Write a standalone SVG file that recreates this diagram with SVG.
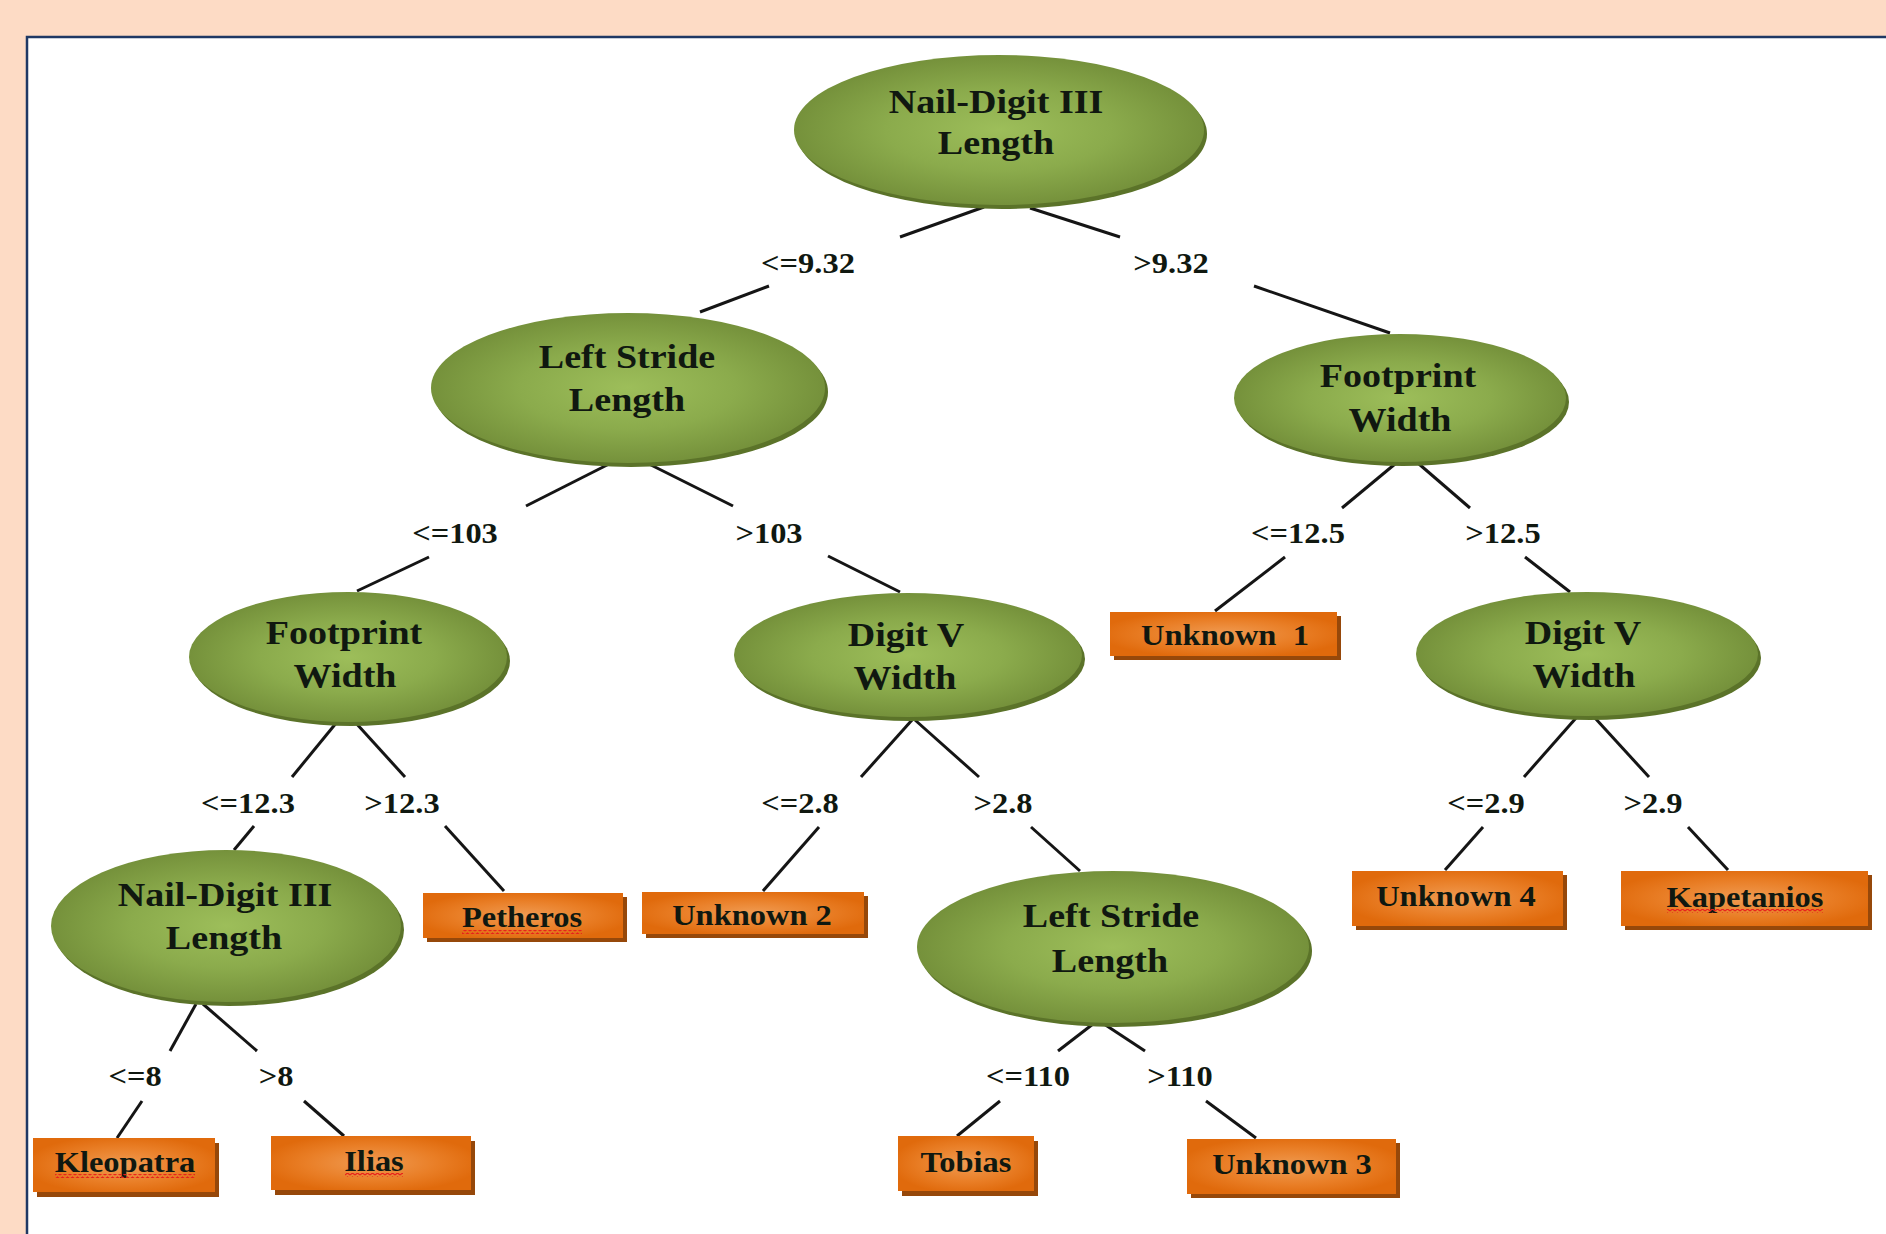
<svg xmlns="http://www.w3.org/2000/svg" width="1886" height="1234" viewBox="0 0 1886 1234">
<style>
.c{stroke:#151515;stroke-width:3;stroke-linecap:butt;fill:none}
.t{font-family:"Liberation Serif","Times New Roman",serif;font-weight:bold;fill:#101810;text-anchor:middle}
.n{font-size:34px}
.b{font-size:29px}
.l{font-size:29px}
.el{fill:url(#gEl)}
.es{fill:#5b7329}
.bx{fill:url(#gBx)}
.bs{fill:#96480a}
.wv{fill:url(#wave)}
</style>
<defs>
<radialGradient id="gEl" cx="50%" cy="50%" r="50%">
<stop offset="0" stop-color="#9dbe5a"/>
<stop offset="0.55" stop-color="#8bab4c"/>
<stop offset="1" stop-color="#75913b"/>
</radialGradient>
<radialGradient id="gBx" cx="50%" cy="50%" r="55%">
<stop offset="0" stop-color="#f09b52"/>
<stop offset="0.6" stop-color="#e97e26"/>
<stop offset="1" stop-color="#e06a0c"/>
</radialGradient>
<pattern id="wave" width="5" height="4" patternUnits="userSpaceOnUse">
<path d="M0,3 L2.5,1 L5,3" stroke="#e8201c" stroke-width="1.1" fill="none"/>
</pattern>
</defs>
<rect x="0" y="0" width="1886" height="1234" fill="#fddbc5"/>
<rect x="27" y="37" width="1900" height="1260" fill="#ffffff" stroke="#1f3864" stroke-width="2.5"/>

<g id="connectors">
<line class="c" x1="984" y1="207" x2="900" y2="237"/>
<line class="c" x1="769" y1="286" x2="700" y2="312"/>
<line class="c" x1="1030" y1="208" x2="1120" y2="237"/>
<line class="c" x1="1254" y1="286" x2="1390" y2="333"/>
<line class="c" x1="611" y1="463" x2="526" y2="506"/>
<line class="c" x1="429" y1="557" x2="357" y2="591"/>
<line class="c" x1="647" y1="463" x2="733" y2="506"/>
<line class="c" x1="828" y1="556" x2="900" y2="592"/>
<line class="c" x1="1395" y1="464" x2="1342" y2="508"/>
<line class="c" x1="1285" y1="557" x2="1215" y2="611"/>
<line class="c" x1="1419" y1="464" x2="1470" y2="508"/>
<line class="c" x1="1525" y1="557" x2="1570" y2="592"/>
<line class="c" x1="337" y1="722" x2="292" y2="777"/>
<line class="c" x1="254" y1="826" x2="234" y2="850"/>
<line class="c" x1="355" y1="722" x2="405" y2="777"/>
<line class="c" x1="445" y1="826" x2="504" y2="891"/>
<line class="c" x1="912" y1="720" x2="861" y2="777"/>
<line class="c" x1="819" y1="827" x2="763" y2="891"/>
<line class="c" x1="915" y1="720" x2="979" y2="777"/>
<line class="c" x1="1031" y1="827" x2="1080" y2="871"/>
<line class="c" x1="1576" y1="718" x2="1524" y2="777"/>
<line class="c" x1="1483" y1="827" x2="1445" y2="870"/>
<line class="c" x1="1595" y1="718" x2="1649" y2="777"/>
<line class="c" x1="1688" y1="827" x2="1728" y2="870"/>
<line class="c" x1="196" y1="1004" x2="170" y2="1051"/>
<line class="c" x1="142" y1="1101" x2="117" y2="1138"/>
<line class="c" x1="203" y1="1004" x2="257" y2="1051"/>
<line class="c" x1="304" y1="1101" x2="344" y2="1136"/>
<line class="c" x1="1093" y1="1024" x2="1058" y2="1051"/>
<line class="c" x1="1000" y1="1101" x2="957" y2="1136"/>
<line class="c" x1="1104" y1="1024" x2="1145" y2="1051"/>
<line class="c" x1="1206" y1="1101" x2="1256" y2="1138"/>
<text class="t l" transform="matrix(1.12 0 0 1 808 0)" y="273">&lt;=9.32</text>
<text class="t l" transform="matrix(1.12 0 0 1 1171 0)" y="273">&gt;9.32</text>
<text class="t l" transform="matrix(1.12 0 0 1 455 0)" y="543">&lt;=103</text>
<text class="t l" transform="matrix(1.12 0 0 1 769 0)" y="543">&gt;103</text>
<text class="t l" transform="matrix(1.12 0 0 1 1298 0)" y="543">&lt;=12.5</text>
<text class="t l" transform="matrix(1.12 0 0 1 1503 0)" y="543">&gt;12.5</text>
<text class="t l" transform="matrix(1.12 0 0 1 248 0)" y="813">&lt;=12.3</text>
<text class="t l" transform="matrix(1.12 0 0 1 402 0)" y="813">&gt;12.3</text>
<text class="t l" transform="matrix(1.12 0 0 1 800 0)" y="813">&lt;=2.8</text>
<text class="t l" transform="matrix(1.12 0 0 1 1003 0)" y="813">&gt;2.8</text>
<text class="t l" transform="matrix(1.12 0 0 1 1486 0)" y="813">&lt;=2.9</text>
<text class="t l" transform="matrix(1.12 0 0 1 1653 0)" y="813">&gt;2.9</text>
<text class="t l" transform="matrix(1.12 0 0 1 135 0)" y="1086">&lt;=8</text>
<text class="t l" transform="matrix(1.12 0 0 1 276 0)" y="1086">&gt;8</text>
<text class="t l" transform="matrix(1.12 0 0 1 1028 0)" y="1086">&lt;=110</text>
<text class="t l" transform="matrix(1.12 0 0 1 1180 0)" y="1086">&gt;110</text>
</g>

<g id="node-root">
<ellipse class="es" cx="1002" cy="134" rx="205" ry="75"/>
<ellipse class="el" cx="999" cy="130" rx="205" ry="75"/>
<text class="t n" transform="matrix(1.12 0 0 1 996 0)" y="113">Nail-Digit III</text>
<text class="t n" transform="matrix(1.12 0 0 1 996 0)" y="154">Length</text>
</g>

<g id="node-left-stride-1">
<ellipse class="es" cx="631" cy="392" rx="197" ry="75"/>
<ellipse class="el" cx="628" cy="388" rx="197" ry="75"/>
<text class="t n" transform="matrix(1.12 0 0 1 627 0)" y="368">Left Stride</text>
<text class="t n" transform="matrix(1.12 0 0 1 627 0)" y="411">Length</text>
</g>

<g id="node-footprint-right">
<ellipse class="es" cx="1403" cy="402" rx="166" ry="64"/>
<ellipse class="el" cx="1400" cy="398" rx="166" ry="64"/>
<text class="t n" transform="matrix(1.12 0 0 1 1398 0)" y="387">Footprint</text>
<text class="t n" transform="matrix(1.12 0 0 1 1400 0)" y="431">Width</text>
</g>

<g id="node-footprint-left">
<ellipse class="es" cx="351" cy="661" rx="159" ry="65"/>
<ellipse class="el" cx="348" cy="657" rx="159" ry="65"/>
<text class="t n" transform="matrix(1.12 0 0 1 344 0)" y="644">Footprint</text>
<text class="t n" transform="matrix(1.12 0 0 1 345 0)" y="687">Width</text>
</g>

<g id="node-digitv-mid">
<ellipse class="es" cx="911" cy="659" rx="174" ry="62"/>
<ellipse class="el" cx="908" cy="655" rx="174" ry="62"/>
<text class="t n" transform="matrix(1.12 0 0 1 906 0)" y="646">Digit V</text>
<text class="t n" transform="matrix(1.12 0 0 1 905 0)" y="689">Width</text>
</g>

<g id="node-digitv-right">
<ellipse class="es" cx="1590" cy="658" rx="171" ry="62"/>
<ellipse class="el" cx="1587" cy="654" rx="171" ry="62"/>
<text class="t n" transform="matrix(1.12 0 0 1 1583 0)" y="644">Digit V</text>
<text class="t n" transform="matrix(1.12 0 0 1 1584 0)" y="687">Width</text>
</g>

<g id="node-nail-lower">
<ellipse class="es" cx="229" cy="930" rx="175" ry="76"/>
<ellipse class="el" cx="226" cy="926" rx="175" ry="76"/>
<text class="t n" transform="matrix(1.12 0 0 1 225 0)" y="906">Nail-Digit III</text>
<text class="t n" transform="matrix(1.12 0 0 1 224 0)" y="949">Length</text>
</g>

<g id="node-left-stride-2">
<ellipse class="es" cx="1116" cy="951" rx="196" ry="76"/>
<ellipse class="el" cx="1113" cy="947" rx="196" ry="76"/>
<text class="t n" transform="matrix(1.12 0 0 1 1111 0)" y="927">Left Stride</text>
<text class="t n" transform="matrix(1.12 0 0 1 1110 0)" y="972">Length</text>
</g>

<g id="leaf-unknown1">
<rect class="bs" x="1114" y="616" width="227" height="44"/>
<rect class="bx" x="1110" y="612" width="227" height="44"/>
<text class="t b" transform="matrix(1.12 0 0 1 1225 0)" y="645" xml:space="preserve">Unknown  1</text>
</g>

<g id="leaf-petheros">
<rect class="bs" x="427" y="897" width="200" height="45"/>
<rect class="bx" x="423" y="893" width="200" height="45"/>
<text class="t b" transform="matrix(1.12 0 0 1 522 0)" y="927">Petheros</text>
<rect class="wv" x="462" y="930" width="120" height="4"/>
</g>

<g id="leaf-unknown2">
<rect class="bs" x="646" y="896" width="222" height="42"/>
<rect class="bx" x="642" y="892" width="222" height="42"/>
<text class="t b" transform="matrix(1.12 0 0 1 752 0)" y="925">Unknown 2</text>
</g>

<g id="leaf-unknown4">
<rect class="bs" x="1356" y="875" width="211" height="55"/>
<rect class="bx" x="1352" y="871" width="211" height="55"/>
<text class="t b" transform="matrix(1.12 0 0 1 1456 0)" y="906">Unknown 4</text>
</g>

<g id="leaf-kapetanios">
<rect class="bs" x="1625" y="875" width="247" height="55"/>
<rect class="bx" x="1621" y="871" width="247" height="55"/>
<text class="t b" transform="matrix(1.12 0 0 1 1745 0)" y="907">Kapetanios</text>
<rect class="wv" x="1667" y="909" width="156" height="4"/>
</g>

<g id="leaf-kleopatra">
<rect class="bs" x="37" y="1143" width="182" height="54"/>
<rect class="bx" x="33" y="1138" width="182" height="54"/>
<text class="t b" transform="matrix(1.12 0 0 1 125 0)" y="1172">Kleopatra</text>
<rect class="wv" x="55" y="1174" width="140" height="4"/>
</g>

<g id="leaf-ilias">
<rect class="bs" x="275" y="1141" width="200" height="54"/>
<rect class="bx" x="271" y="1136" width="200" height="54"/>
<text class="t b" transform="matrix(1.12 0 0 1 374 0)" y="1171">Ilias</text>
<rect class="wv" x="345" y="1173" width="58" height="4"/>
</g>

<g id="leaf-tobias">
<rect class="bs" x="902" y="1141" width="136" height="55"/>
<rect class="bx" x="898" y="1136" width="136" height="55"/>
<text class="t b" transform="matrix(1.12 0 0 1 966 0)" y="1172">Tobias</text>
</g>

<g id="leaf-unknown3">
<rect class="bs" x="1191" y="1143" width="209" height="55"/>
<rect class="bx" x="1187" y="1139" width="209" height="55"/>
<text class="t b" transform="matrix(1.12 0 0 1 1292 0)" y="1174">Unknown 3</text>
</g>
</svg>
